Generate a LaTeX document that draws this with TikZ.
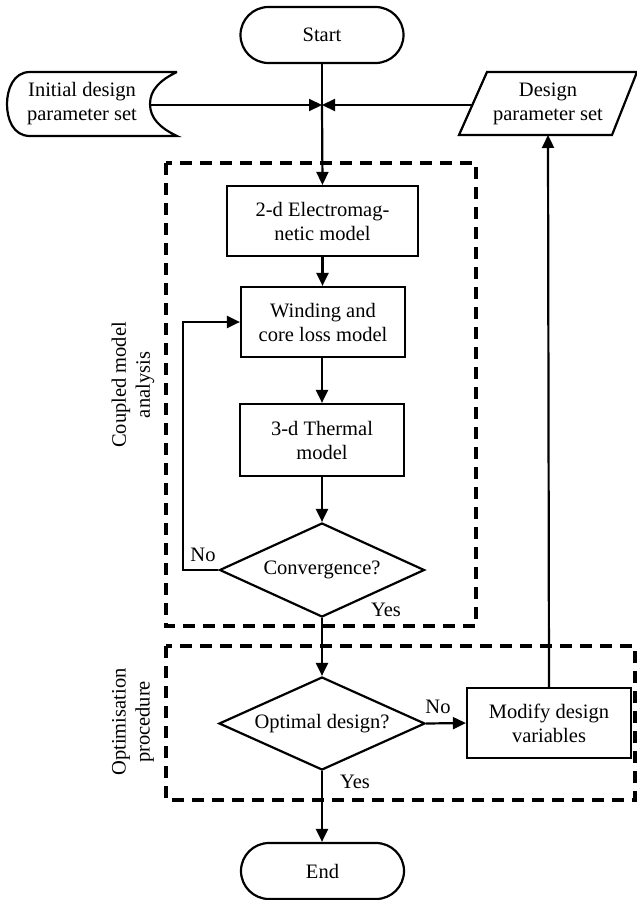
\documentclass[tikz,border=0pt]{standalone}
\usepackage{fontspec}
\setmainfont{Liberation Serif}
\usetikzlibrary{shapes.geometric,arrows.meta}
\begin{document}
\begin{tikzpicture}[x=1pt,y=-1pt,
  font=\fontsize{20.5}{24}\selectfont,
  line width=2.2pt,
  arr/.style={-{Triangle[length=13pt,width=12pt]}},
  proc/.style={draw,rectangle,align=center,inner sep=0pt,minimum width=164pt,minimum height=70pt},
  term/.style={draw,rectangle,rounded corners=28pt,inner sep=0pt,minimum width=163pt,minimum height=56pt},
  dec/.style={draw,diamond,aspect=2.18,inner sep=0pt,minimum width=205pt,minimum height=94pt},
  grp/.style={draw,line width=3.6pt,dash pattern=on 12pt off 8pt},
  lbl/.style={inner sep=0pt,align=center},
  vlbl/.style={inner sep=0pt,align=center,rotate=90}]
\useasboundingbox (0,0) rectangle (637,900);

% group frames
\draw[grp] (166,163) rectangle (476,626);
\draw[grp] (166,646) rectangle (635,800);
\node[vlbl] (lblA) at (133,385) {Coupled model\\analysis};
\node[vlbl] (lblB) at (133,722) {Optimisation\\procedure};

% terminals
\node[term] (start) at (322,35) {Start};
\node[term] (end) at (322.5,871) {End};

% initial design parameter set (stored data shape)
\draw (177,72) -- (30,72) .. controls (13,72) and (7,90) .. (7,104)
      .. controls (7,119) and (13,136) .. (30,136) -- (177,136)
      .. controls (160,128) and (150,118) .. (150,104)
      .. controls (150,90) and (160,80) .. (177,72);
\node[lbl] (init) at (82,104) {Initial design\\parameter set};
\coordinate (initout) at (151,105);

% design parameter set (parallelogram)
\draw (487,72) -- (637,72) -- (612,135) -- (459,135) -- cycle;
\node[lbl] (dps) at (548,104) {Design\\parameter set};
\coordinate (dpsin) at (472.5,105);
\coordinate (dpsbot) at (548,135);

% junction
\coordinate (J) at (322,105);

% process boxes
\node[proc,minimum width=191pt] (em) at (322.5,221) {2-d Electromag-\\netic model};
\node[proc] (wind) at (323,322) {Winding and\\core loss model};
\node[proc,minimum height=72pt] (therm) at (322,440) {3-d Thermal\\model};
\node[dec] (conv) at (322,570) {Convergence?};
\node[dec,minimum width=206pt,minimum height=93pt] (opt) at (322,723.5) {Optimal design?};
\node[proc] (mod) at (549,723) {Modify design\\variables};

% connectors
\draw (start.south) -- (J);
\draw[arr] (initout) -- (J);
\draw[arr] (dpsin) -- (J);
\draw[arr] (J) -- (em.north);
\draw[arr] (em.south) -- (wind.north -| em.south);
\draw[arr] (wind.south -| therm.north) -- (therm.north);
\draw[arr] (therm.south) -- (conv.north);
\coordinate (loopA) at (183,570);
\coordinate (loopB) at (183,322);
\draw[arr] (conv.west) -- (loopA) -- (loopB) -- (wind.west);
\draw[arr] (conv.south) -- (opt.north);
\draw[arr] (opt.east) -- (mod.west);
\draw[arr] (opt.south) -- (end.north -| opt.south);
\draw[arr] (mod.north) -- (dpsbot);

% labels
\node[lbl] (no1) at (203,555) {No};
\node[lbl] (yes1) at (386,610) {Yes};
\node[lbl] (no2) at (438,707) {No};
\node[lbl] (yes2) at (355,782) {Yes};
\end{tikzpicture}
\end{document}
